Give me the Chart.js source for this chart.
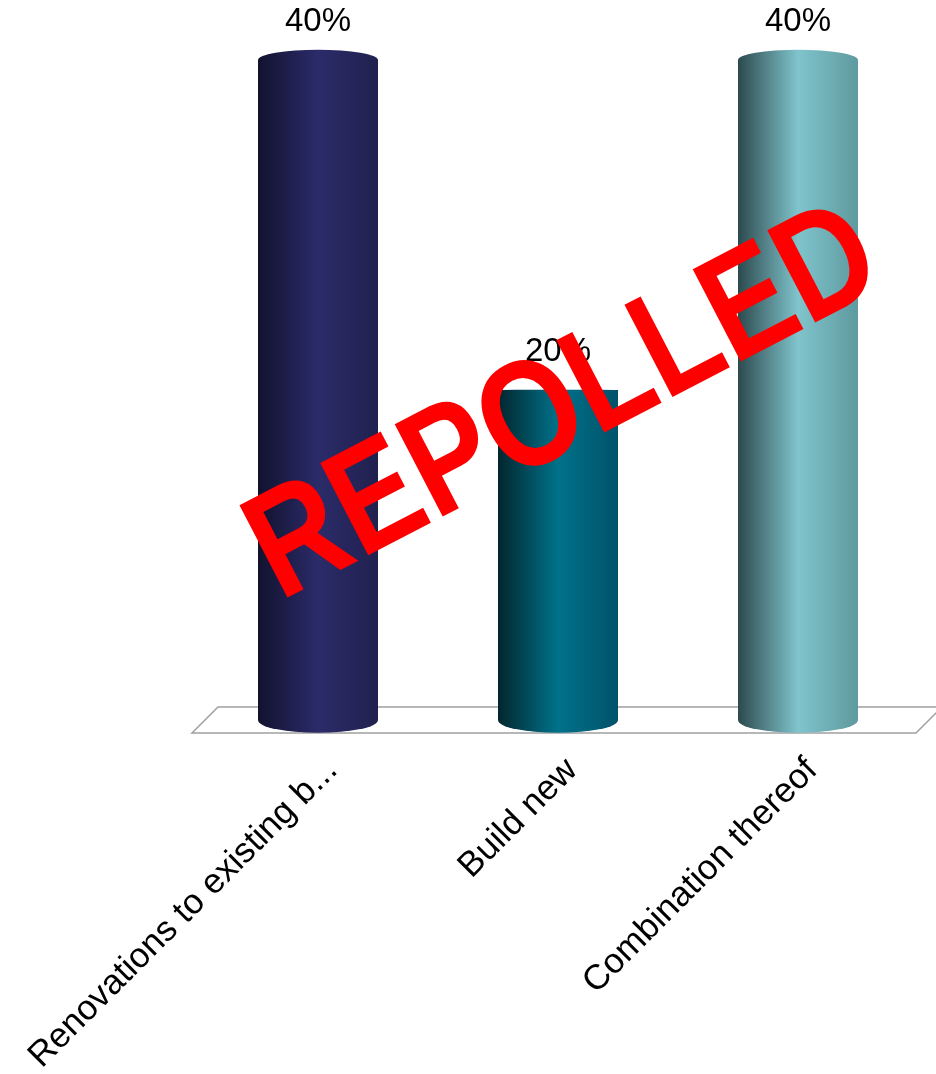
<!DOCTYPE html>
<html>
<head>
<meta charset="utf-8">
<script src="https://cdn.jsdelivr.net/npm/chart.js@4.4.0/dist/chart.umd.min.js"></script>
<style>
  html, body { margin: 0; padding: 0; background: #fff; }
</style>
</head>
<body>
<canvas id="chart" width="936" height="1074"></canvas>
<script>
const categories = ['Renovations to existing b...', 'Build new', 'Combination thereof'];
const values = [40, 20, 40];
const valueLabels = ['40%', '20%', '40%'];
const stampText = 'REPOLLED';

// left edge, middle highlight, right edge of each cylinder
const barColors = [
  ['#12122e', '#2b2b6a', '#21214f'],
  ['#03262e', '#00728a', '#00526a'],
  ['#2c4a4e', '#80c4cc', '#5e9a9f']
];
const EYE = 400; // screen height of the "eye level" for the cylinder caps

const floor = {
  id: 'floor',
  beforeDatasetsDraw(chart) {
    const ctx = chart.ctx;
    const y0 = chart.scales.y.getPixelForValue(0);
    const { left, right } = chart.chartArea;
    ctx.save();
    ctx.beginPath();
    ctx.moveTo(left - 6, y0 + 13);
    ctx.lineTo(right - 2, y0 + 13);
    ctx.lineTo(right + 24, y0 - 13);
    ctx.lineTo(left + 20, y0 - 13);
    ctx.closePath();
    ctx.strokeStyle = '#a0a0a0';
    ctx.lineWidth = 1.5;
    ctx.stroke();
    ctx.restore();
  }
};

const cylinders = {
  id: 'cylinders',
  afterDatasetsDraw(chart) {
    const ctx = chart.ctx;
    const meta = chart.getDatasetMeta(0);
    meta.data.forEach((bar, i) => {
      const { x, y, base, width } = bar.getProps(['x', 'y', 'base', 'width'], true);
      const l = x - width / 2, r = x + width / 2;
      const c = barColors[i];
      const g = ctx.createLinearGradient(l, 0, r, 0);
      g.addColorStop(0, c[0]);
      g.addColorStop(0.5, c[1]);
      g.addColorStop(1, c[2]);
      const ryTop = Math.abs(y - EYE) * 0.03;
      const ryBot = Math.abs(base - EYE) * 0.04;
      ctx.save();
      ctx.fillStyle = g;
      ctx.beginPath();
      ctx.moveTo(l, base);
      ctx.lineTo(l, y);
      ctx.ellipse(x, y, width / 2, Math.max(ryTop, 0.1), 0, Math.PI, 2 * Math.PI);
      ctx.lineTo(r, base);
      ctx.ellipse(x, base, width / 2, ryBot, 0, 0, Math.PI);
      ctx.closePath();
      ctx.fill();

      ctx.fillStyle = '#000';
      ctx.font = '33px "Liberation Sans", Arial, sans-serif';
      ctx.textAlign = 'center';
      ctx.textBaseline = 'middle';
      ctx.fillText(valueLabels[i], x, y - 38);
      ctx.restore();
    });
  }
};

const stamp = {
  id: 'stamp',
  afterDraw(chart) {
    const ctx = chart.ctx;
    ctx.save();
    ctx.translate(565, 406);
    ctx.rotate(-27.5 * Math.PI / 180);
    ctx.scale(1, 1.2);
    ctx.font = 'bold 126px "Liberation Sans", Arial, sans-serif';
    ctx.fillStyle = '#ff0000';
    ctx.textAlign = 'center';
    ctx.textBaseline = 'middle';
    ctx.fillText(stampText, 0, 0);
    ctx.restore();
  }
};

new Chart(document.getElementById('chart'), {
  type: 'bar',
  data: {
    labels: categories,
    datasets: [{
      data: values,
      backgroundColor: 'rgba(0,0,0,0)',
      borderWidth: 0,
      barPercentage: 0.5,
      categoryPercentage: 1
    }]
  },
  options: {
    responsive: false,
    animation: false,
    layout: { padding: { top: 60, left: 198, right: 18, bottom: 0 } },
    plugins: { legend: { display: false }, tooltip: { enabled: false } },
    scales: {
      y: { display: false, min: 0, max: 40 },
      x: {
        grid: { display: false, drawTicks: false },
        border: { display: false },
        ticks: {
          color: '#000',
          font: { family: '"Liberation Sans", Arial, sans-serif', size: 35 },
          minRotation: 45,
          maxRotation: 45,
          autoSkip: false,
          padding: 30,
          labelOffset: 14
        },
        afterFit(scale) {
          scale.paddingLeft = 0;
          scale.paddingRight = 0;
          scale.height = 354;
        }
      }
    }
  },
  plugins: [floor, cylinders, stamp]
});
</script>
</body>
</html>
